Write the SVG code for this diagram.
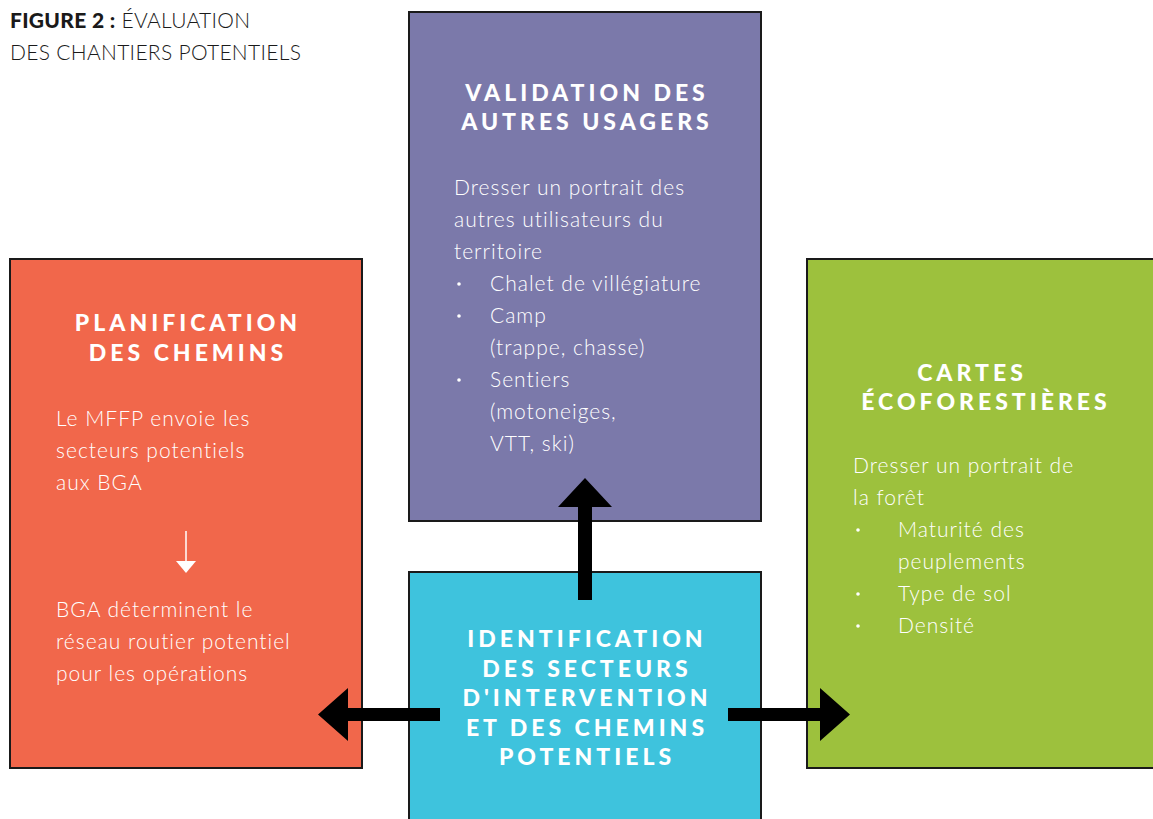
<svg xmlns="http://www.w3.org/2000/svg" width="1153" height="819" viewBox="0 0 1153 819">
<style>
.box{stroke:#1a1a1a;stroke-width:2}
.hd{font-family:Lato,"DejaVu Sans",sans-serif;font-weight:900;font-size:23px;fill:#fff;letter-spacing:4px;text-anchor:middle}
.bd{font-family:Lato,"DejaVu Sans",sans-serif;font-weight:300;font-size:21px;fill:#fff;letter-spacing:1px}
.bl{fill:#fff}
.ttl{font-family:Lato,"DejaVu Sans",sans-serif;font-size:21px;fill:#1a1a1a;letter-spacing:0.3px}
.arr{fill:#000}
</style>
<rect width="1153" height="819" fill="#fff"/>
<g id="title">
<text class="ttl" x="10" y="28"><tspan font-weight="900">FIGURE 2 :</tspan><tspan font-weight="300"> ÉVALUATION</tspan></text>
<text class="ttl" x="10" y="60" font-weight="300">DES CHANTIERS POTENTIELS</text>
</g>
<g id="node-validation">
<rect class="box" x="409" y="12" width="352" height="509" fill="#7B79AA"/>
<text class="hd" x="587" y="101">VALIDATION DES</text>
<text class="hd" x="587" y="130">AUTRES USAGERS</text>
<text class="bd" x="454" y="195">Dresser un portrait des</text>
<text class="bd" x="454" y="227">autres utilisateurs du</text>
<text class="bd" x="454" y="259">territoire</text>
<circle class="bl" cx="459" cy="284" r="1.8"/><text class="bd" x="490" y="291">Chalet de villégiature</text>
<circle class="bl" cx="459" cy="316" r="1.8"/><text class="bd" x="490" y="323">Camp</text>
<text class="bd" x="490" y="355">(trappe, chasse)</text>
<circle class="bl" cx="459" cy="380" r="1.8"/><text class="bd" x="490" y="387">Sentiers</text>
<text class="bd" x="490" y="419">(motoneiges,</text>
<text class="bd" x="490" y="451">VTT, ski)</text>
</g>
<g id="node-planification">
<rect class="box" x="10" y="259" width="352" height="509" fill="#F1674B"/>
<text class="hd" x="188" y="331">PLANIFICATION</text>
<text class="hd" x="188" y="361">DES CHEMINS</text>
<text class="bd" x="56" y="426">Le MFFP envoie les</text>
<text class="bd" x="56" y="458">secteurs potentiels</text>
<text class="bd" x="56" y="490">aux BGA</text>
<line x1="186" y1="531" x2="186" y2="562" stroke="#fff" stroke-width="1.5"/>
<polygon points="176,561 196,561 186,573" fill="#fff"/>
<text class="bd" x="56" y="617">BGA déterminent le</text>
<text class="bd" x="56" y="649">réseau routier potentiel</text>
<text class="bd" x="56" y="681">pour les opérations</text>
</g>
<g id="node-cartes">
<rect class="box" x="807" y="259" width="352" height="509" fill="#9DC13D"/>
<text class="hd" x="972" y="381">CARTES</text>
<text class="hd" x="986" y="410">ÉCOFORESTIÈRES</text>
<text class="bd" x="853" y="473">Dresser un portrait de</text>
<text class="bd" x="853" y="505">la forêt</text>
<circle class="bl" cx="858" cy="530" r="1.8"/><text class="bd" x="898" y="537">Maturité des</text>
<text class="bd" x="898" y="569">peuplements</text>
<circle class="bl" cx="858" cy="594" r="1.8"/><text class="bd" x="898" y="601">Type de sol</text>
<circle class="bl" cx="858" cy="626" r="1.8"/><text class="bd" x="898" y="633">Densité</text>
</g>
<g id="node-identification">
<rect class="box" x="409" y="572" width="352" height="260" fill="#3EC3DD"/>
<text class="hd" x="587" y="647">IDENTIFICATION</text>
<text class="hd" x="587" y="677">DES SECTEURS</text>
<text class="hd" x="587" y="706">D'INTERVENTION</text>
<text class="hd" x="587" y="736">ET DES CHEMINS</text>
<text class="hd" x="587" y="765">POTENTIELS</text>
</g>
<g id="connectors">
<polygon class="arr" points="578,600 592,600 592,507 612,507 585,478 558,507 578,507"/>
<polygon class="arr" points="440,708 440,721 348,721 348,741 318,714.5 348,688 348,708"/>
<polygon class="arr" points="728,708 728,721 820,721 820,741 850,714.5 820,688 820,708"/>
</g>
</svg>
